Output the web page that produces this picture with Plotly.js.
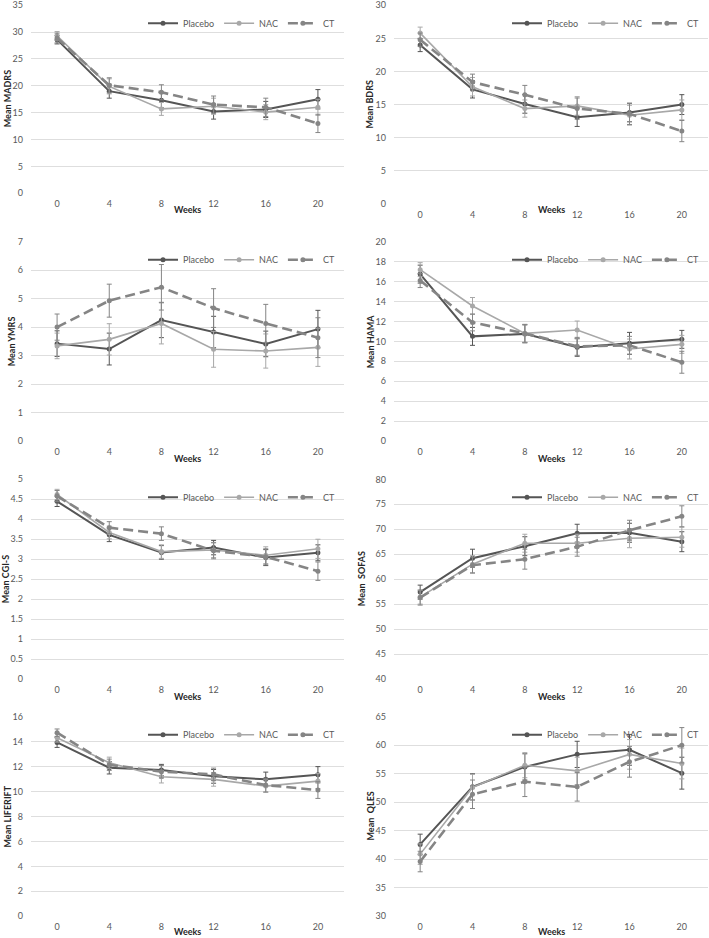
<!DOCTYPE html>
<html>
<head>
<meta charset="utf-8">
<script src="https://cdn.plot.ly/plotly-3.0.1.min.js"></script>
<style>
html,body{margin:0;padding:0;background:#fff;}
#chart{width:709px;height:938px;}
</style>
</head>
<body>
<div id="chart"></div>
<script>
// ---------- DATA ----------
const weeks = [0, 4, 8, 12, 16, 20];
const seriesNames = ["Placebo", "NAC", "CT"];

const madrsPlacebo = [28.6, 19.0, 17.3, 15.2, 15.6, 17.5];
const madrsNAC     = [29.3, 19.9, 15.7, 16.2, 15.1, 16.0];
const madrsCT      = [28.9, 20.1, 18.8, 16.5, 16.0, 13.0];
const madrsPlaceboErr = [0.8, 1.3, 1.4, 1.4, 1.5, 1.8];
const madrsNACErr     = [0.8, 1.4, 1.2, 1.5, 1.4, 1.5];
const madrsCTErr      = [0.9, 1.4, 1.4, 1.6, 1.7, 1.7];

const bdrsPlacebo = [24.0, 17.3, 15.1, 13.1, 13.8, 15.0];
const bdrsNAC     = [25.8, 17.7, 14.4, 14.8, 13.4, 14.2];
const bdrsCT      = [24.8, 18.4, 16.5, 14.4, 13.6, 11.0];
const bdrsPlaceboErr = [1.0, 1.3, 1.4, 1.4, 1.4, 1.5];
const bdrsNACErr     = [0.9, 1.4, 1.3, 1.4, 1.5, 1.5];
const bdrsCTErr      = [1.0, 1.2, 1.4, 1.6, 1.6, 1.6];

const ymrsPlacebo = [3.42, 3.23, 4.25, 3.83, 3.41, 3.93];
const ymrsNAC     = [3.34, 3.57, 4.13, 3.22, 3.16, 3.29];
const ymrsCT      = [4.00, 4.93, 5.40, 4.67, 4.13, 3.63];
const ymrsPlaceboErr = [0.45, 0.56, 0.62, 0.55, 0.45, 0.66];
const ymrsNACErr     = [0.45, 0.55, 0.72, 0.63, 0.60, 0.67];
const ymrsCTErr      = [0.46, 0.58, 0.80, 0.68, 0.67, 0.70];

const hamaPlacebo = [16.75, 10.5, 10.75, 9.4, 9.8, 10.2];
const hamaNAC     = [17.2, 13.55, 10.8, 11.14, 9.23, 9.7];
const hamaCT      = [16.1, 11.9, 10.8, 9.5, 9.6, 7.9];
const hamaPlaceboErr = [0.9, 0.9, 0.9, 0.9, 1.1, 0.9];
const hamaNACErr     = [0.7, 0.85, 0.9, 0.9, 1.0, 0.9];
const hamaCTErr      = [0.7, 0.85, 0.9, 0.9, 0.9, 1.1];

const cgisPlacebo = [4.45, 3.61, 3.17, 3.29, 3.04, 3.16];
const cgisNAC     = [4.62, 3.67, 3.19, 3.23, 3.10, 3.26];
const cgisCT      = [4.58, 3.79, 3.64, 3.21, 3.06, 2.70];
const cgisPlaceboErr = [0.13, 0.17, 0.17, 0.18, 0.20, 0.20];
const cgisNACErr     = [0.13, 0.16, 0.17, 0.19, 0.21, 0.24];
const cgisCTErr      = [0.14, 0.15, 0.17, 0.20, 0.20, 0.23];

const sofasPlacebo = [57.4, 64.2, 66.6, 69.2, 69.3, 67.5];
const sofasNAC     = [56.4, 63.0, 67.2, 67.2, 68.2, 68.4];
const sofasCT      = [56.3, 62.8, 64.0, 66.5, 69.8, 72.6];
const sofasPlaceboErr = [1.4, 1.8, 1.9, 1.8, 1.9, 2.0];
const sofasNACErr     = [1.4, 1.7, 1.8, 1.8, 1.9, 2.0];
const sofasCTErr      = [1.5, 1.6, 2.0, 1.9, 2.0, 2.1];

const lifePlacebo = [13.94, 11.91, 11.73, 11.22, 10.98, 11.35];
const lifeNAC     = [14.32, 12.31, 11.19, 10.98, 10.44, 10.84];
const lifeCT      = [14.72, 12.15, 11.59, 11.38, 10.52, 10.12];
const lifePlaceboErr = [0.40, 0.50, 0.45, 0.55, 0.58, 0.65];
const lifeNACErr     = [0.35, 0.45, 0.50, 0.55, 0.50, 0.60];
const lifeCTErr      = [0.30, 0.45, 0.50, 0.50, 0.55, 0.67];

const qlesPlacebo = [42.6, 52.7, 56.2, 58.4, 59.2, 55.1];
const qlesNAC     = [40.9, 52.6, 56.5, 55.5, 58.4, 56.8];
const qlesCT      = [39.6, 51.4, 53.6, 52.7, 57.1, 60.0];
const qlesPlaceboErr = [1.8, 2.3, 2.3, 2.3, 2.7, 2.8];
const qlesNACErr     = [1.8, 2.3, 2.2, 2.4, 2.6, 2.7];
const qlesCTErr      = [1.8, 2.5, 2.6, 2.5, 2.7, 3.1];

const yTitles = ["Mean MADRS", "Mean BDRS", "Mean YMRS", "Mean HAMA",
                 "Mean CGI-S", "Mean  SOFAS", "Mean LIFERIFT", "Mean  QLES"];
const xTitle = "Weeks";

// ---------- LAYOUT GEOMETRY (pixels) ----------
const W = 709, H = 938;
const FONT = "Lato, 'Open Sans', sans-serif";
const colX = [[31, 344], [394, 708]];
const panels = [
  {vals:[madrsPlacebo, madrsNAC, madrsCT], errs:[madrsPlaceboErr, madrsNACErr, madrsCTErr], col:0, top:5.2, bot:193.3, range:[0,35], dtick:5, titleX:7, weeksY:209.5},
  {vals:[bdrsPlacebo, bdrsNAC, bdrsCT], errs:[bdrsPlaceboErr, bdrsNACErr, bdrsCTErr], col:1, top:5.2, bot:204, range:[0,30], dtick:5, titleX:370, weeksY:209.5},
  {vals:[ymrsPlacebo, ymrsNAC, ymrsCT], errs:[ymrsPlaceboErr, ymrsNACErr, ymrsCTErr], col:0, top:241.7, bot:441, range:[0,7], dtick:1, titleX:11, weeksY:458.7},
  {vals:[hamaPlacebo, hamaNAC, hamaCT], errs:[hamaPlaceboErr, hamaNACErr, hamaCTErr], col:1, top:241.7, bot:441, range:[0,20], dtick:2, titleX:370, weeksY:458.7},
  {vals:[cgisPlacebo, cgisNAC, cgisCT], errs:[cgisPlaceboErr, cgisNACErr, cgisCTErr], col:0, top:479.3, bot:679, range:[0,5], dtick:0.5, titleX:5, weeksY:696},
  {vals:[sofasPlacebo, sofasNAC, sofasCT], errs:[sofasPlaceboErr, sofasNACErr, sofasCTErr], col:1, top:479.3, bot:679, range:[40,80], dtick:5, titleX:361, weeksY:696},
  {vals:[lifePlacebo, lifeNAC, lifeCT], errs:[lifePlaceboErr, lifeNACErr, lifeCTErr], col:0, top:716.7, bot:916.3, range:[0,16], dtick:2, titleX:7, weeksY:931.5},
  {vals:[qlesPlacebo, qlesNAC, qlesCT], errs:[qlesPlaceboErr, qlesNACErr, qlesCTErr], col:1, top:716.7, bot:916.3, range:[30,65], dtick:5, titleX:370, weeksY:931.5}
];

const styles = [
  {color:"#555555", width:2,   dash:"solid",    msize:5},
  {color:"#a8a8a8", width:1.6, dash:"solid",    msize:5},
  {color:"#858585", width:2.6, dash:"10px,5px", msize:5}
];

const px = x => x / W;
const py = y => 1 - y / H;

const traces = [];
const layout = {
  width: W, height: H,
  margin: {l:0, r:0, t:0, b:0},
  paper_bgcolor: "#ffffff",
  plot_bgcolor: "rgba(0,0,0,0)",
  font: {family: FONT, color: "#595959", size: 9},
  annotations: [],
  showlegend: true
};

panels.forEach((p, i) => {
  const n = i + 1;
  const xa = "x" + (n === 1 ? "" : n);
  const ya = "y" + (n === 1 ? "" : n);
  const xk = "xaxis" + (n === 1 ? "" : n);
  const yk = "yaxis" + (n === 1 ? "" : n);
  const lk = "legend" + (n === 1 ? "" : n);
  const [x0, x1] = colX[p.col];
  const eps = p.dtick * 0.002;

  layout[xk] = {
    domain: [px(x0), px(x1)],
    anchor: ya,
    range: [-2, 22],
    tickvals: weeks,
    ticktext: weeks.map(String),
    showgrid: false,
    zeroline: false,
    showline: false,
    ticks: "",
    ticklabelstandoff: 4,
    ticklabeloverflow: "allow",
    tickfont: {family: FONT, size: 9, color: "#595959"},
    fixedrange: true
  };
  layout[yk] = {
    domain: [py(p.bot), py(p.top)],
    anchor: xa,
    range: [p.range[0] - eps, p.range[1] + eps],
    dtick: p.dtick,
    tick0: p.range[0],
    showgrid: true,
    gridcolor: "#dedede",
    gridwidth: 1,
    zeroline: false,
    showline: false,
    ticks: "",
    ticklabelstandoff: 7,
    ticklabeloverflow: "allow",
    tickfont: {family: FONT, size: 9, color: "#595959"},
    fixedrange: true
  };
  layout[lk] = {
    orientation: "h",
    x: px(x1 - 4), xanchor: "right",
    y: py(p.top + 18), yanchor: "middle",
    bgcolor: "rgba(0,0,0,0)",
    font: {family: FONT, size: 9, color: "#595959"},
    itemwidth: 30,
    tracegroupgap: 0
  };

  seriesNames.forEach((name, s) => {
    const st = styles[s];
    traces.push({
      type: "scatter",
      mode: "lines+markers",
      name: name,
      x: weeks,
      y: p.vals[s],
      xaxis: xa, yaxis: ya,
      legend: lk,
      line: {color: st.color, width: st.width, dash: st.dash},
      marker: {color: st.color, size: st.msize, symbol: "circle"},
      error_y: {type: "data", array: p.errs[s], visible: true, color: st.color, thickness: 1, width: 2.5},
      hoverinfo: "skip"
    });
  });

  // y-axis title
  layout.annotations.push({
    text: "<b>" + yTitles[i] + "</b>",
    xref: "paper", yref: "paper",
    x: px(p.titleX), y: py((p.top + p.bot) / 2),
    xanchor: "center", yanchor: "middle",
    textangle: -90, showarrow: false,
    font: {family: FONT, size: 9, color: "#262626"}
  });
  // x-axis title
  layout.annotations.push({
    text: "<b>" + xTitle + "</b>",
    xref: "paper", yref: "paper",
    x: px((x0 + x1) / 2), y: py(p.weeksY),
    xanchor: "center", yanchor: "middle",
    showarrow: false,
    font: {family: FONT, size: 9, color: "#262626"}
  });
});

Plotly.newPlot("chart", traces, layout, {staticPlot: true, displayModeBar: false});
</script>
</body>
</html>
